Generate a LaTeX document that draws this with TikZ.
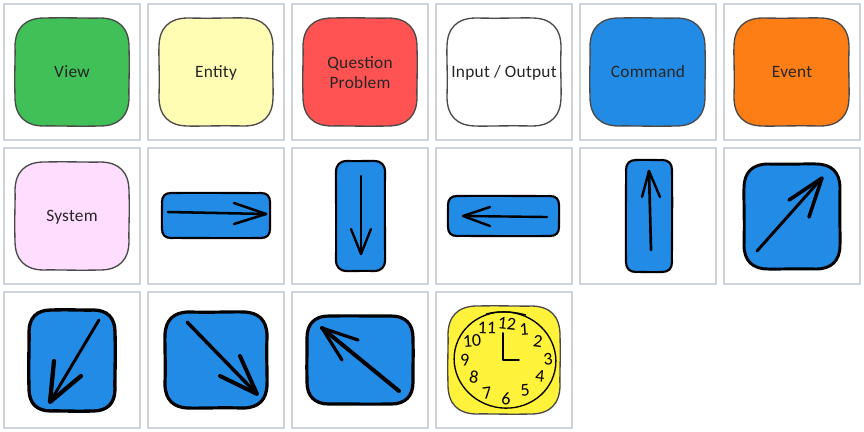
\documentclass[tikz,border=0pt]{standalone}
\usepackage{fontspec}
\setmainfont[LetterSpace=1.5]{Carlito}
\newfontfamily\digitfont{Carlito}
\definecolor{panelc}{HTML}{CED4DA}
\definecolor{viewc}{HTML}{40C057}
\definecolor{entityc}{HTML}{FFFDB3}
\definecolor{questc}{HTML}{FF5252}
\definecolor{blueC}{HTML}{228BE6}
\definecolor{orangeC}{HTML}{FD7E14}
\definecolor{pinkC}{HTML}{FFDDFF}
\definecolor{clockc}{HTML}{FFF23A}
\definecolor{softline}{HTML}{4A4A4A}
\tikzset{
  panel/.style={draw=panelc,line width=1.5pt,fill=white},
  softedge/.style={draw=softline,line width=1pt},
  hardedge/.style={draw=black,line width=1.6pt},
  label/.style={font=\fontsize{13}{13.5}\selectfont,align=center,text=black!85,inner sep=0pt,anchor=base},
  digit/.style={font=\digitfont\fontsize{13.5}{14}\selectfont,text=black,inner sep=0pt},
  stroke/.style={draw=black,line cap=round,line join=round},
}
% sketched rounded box: name, x1, y1, x2, y2, corner radius, fill, edge style, wobble sign
\newcommand{\skbox}[9]{%
  \path[fill=#7]
    ({#2+#6},#3) -- ({#4-#6},#3)
    .. controls ({#4-0.35*#6},#3) and (#4,{#3+0.35*#6}) .. (#4,{#3+#6})
    -- (#4,{#5-#6})
    .. controls (#4,{#5-0.35*#6}) and ({#4-0.35*#6},#5) .. ({#4-#6},#5)
    -- ({#2+#6},#5)
    .. controls ({#2+0.35*#6},#5) and (#2,{#5-0.35*#6}) .. (#2,{#5-#6})
    -- (#2,{#3+#6})
    .. controls (#2,{#3+0.35*#6}) and ({#2+0.35*#6},#3) .. ({#2+#6},#3) -- cycle;
  \draw[#8]
    ({#2+#6},#3)
    .. controls ({#2+0.5*(#4-#2)},{#3-0.6*#9}) and ({#4-1.2*#6},{#3+0.5*#9}) .. ({#4-#6},#3)
    .. controls ({#4-0.35*#6},#3) and (#4,{#3+0.35*#6}) .. (#4,{#3+#6})
    .. controls ({#4+0.7*#9},{#3+0.5*(#5-#3)}) and ({#4-0.5*#9},{#5-1.2*#6}) .. (#4,{#5-#6})
    .. controls (#4,{#5-0.35*#6}) and ({#4-0.35*#6},#5) .. ({#4-#6},#5)
    .. controls ({#2+0.5*(#4-#2)},{#5+0.6*#9}) and ({#2+1.2*#6},{#5-0.5*#9}) .. ({#2+#6},#5)
    .. controls ({#2+0.35*#6},#5) and (#2,{#5-0.35*#6}) .. (#2,{#5-#6})
    .. controls ({#2-0.7*#9},{#5-0.5*(#5-#3)}) and ({#2+0.5*#9},{#3+1.2*#6}) .. (#2,{#3+#6})
    .. controls (#2,{#3+0.35*#6}) and ({#2+0.35*#6},#3) .. ({#2+#6},#3) -- cycle;
  \coordinate (#1) at ({0.5*(#2+#4)},{0.5*(#3+#5)});
}
% sketched arrow: head width, shaft width, tail, head-side 1, tip, head-side 2, prefix
\newcommand{\skarrow}[7]{%
  \coordinate (#7t) at #3; \coordinate (#7a) at #4;
  \coordinate (#7p) at #5; \coordinate (#7b) at #6;
  \draw[stroke,line width=#2] (#7t) -- (#7p);
  \draw[stroke,line width=#1] (#7a) -- (#7p) -- (#7b);
}
\begin{document}
\begin{tikzpicture}[x=0.75pt,y=-0.75pt]
\useasboundingbox (0,0) rectangle (864,432);
\fill[white] (0,0) rectangle (864,432);
% panels
\foreach \n/\x/\y in {a/4/4,b/148/4,c/292/4,d/436/4,e/580/4,f/724/4,
                      g/4/148,h/148/148,i/292/148,j/436/148,k/580/148,l/724/148,
                      m/4/292,n/148/292,o/292/292,p/436/292}
  \draw[panel] (\x,\y) rectangle ({\x+136},{\y+135.5});
% labelled cards
\skbox{view}{15}{18}{129}{126}{29}{viewc}{softedge}{1}
\node[label] (viewT) at (72,77) {View};
\skbox{entity}{159}{18}{273}{126}{29}{entityc}{softedge}{-1}
\node[label] (entityT) at (216,77) {Entity};
\skbox{quest}{303}{18}{417}{126}{29}{questc}{softedge}{1}
\node[label,anchor=center] (questT) at (360,72.5) {Question\\[2pt]Problem};
\skbox{inout}{447}{18}{561}{126}{29}{white}{softedge}{-1}
\node[label] (inoutT) at (504,77) {Input / Output};
\skbox{command}{590}{18}{705}{126}{29}{blueC}{softedge}{1}
\node[label] (commandT) at (648,77) {Command};
\skbox{event}{734}{18}{849}{126}{29}{orangeC}{softedge}{-1}
\node[label] (eventT) at (792,77) {Event};
\skbox{system}{15}{162}{129}{270}{29}{pinkC}{softedge}{1}
\node[label] (systemT) at (72,221) {System};
% arrow cards
\skbox{right}{162}{193}{270}{238}{9}{blueC}{hardedge}{0.6}
\skarrow{1.9pt}{1.9pt}{(168,212)}{(234,203)}{(266,214)}{(234,224)}{ra}
\skbox{down}{336}{161}{385}{271}{11}{blueC}{hardedge}{-0.6}
\skarrow{1.8pt}{1.8pt}{(361,176)}{(351,229)}{(361,254)}{(371,229)}{da}
\skbox{left}{448}{196}{559}{236}{9}{blueC}{hardedge}{0.7}
\skarrow{1.8pt}{1.8pt}{(547,217)}{(490,207)}{(463,216)}{(490,226)}{la}
\skbox{up}{626}{160}{672}{272}{10}{blueC}{hardedge}{0.8}
\skarrow{1.8pt}{2pt}{(651,250)}{(642,197)}{(649,171)}{(660,197)}{ua}
\skbox{ne}{744}{164}{840}{269}{24}{blueC}{draw=black,line width=2.2pt}{-1}
\skarrow{2.7pt}{2.2pt}{(757,251)}{(789,200)}{(822,178)}{(809,217)}{nea}
\skbox{sw}{29}{310}{115}{411}{22}{blueC}{draw=black,line width=2.5pt}{1}
\skarrow{3.2pt}{2.2pt}{(99,320)}{(54,361)}{(50,402)}{(81,376)}{swa}
\skbox{se}{165}{312}{267}{408}{24}{blueC}{draw=black,line width=2.4pt}{-1}
\skarrow{3pt}{2.6pt}{(187,322)}{(240,356)}{(257,394)}{(220,376)}{sea}
\skbox{nw}{307}{316}{413}{404}{22}{blueC}{draw=black,line width=2.4pt}{0.7}
\skarrow{2.4pt}{3pt}{(399,391)}{(358,340)}{(322,328)}{(342,360)}{nwa}
% clock
\skbox{clockbox}{448}{306}{560}{414}{29}{clockc}{softedge}{1}
\coordinate (clockc) at (505,360);
\draw[black,line width=1pt,rotate around={-12:(clockc)}] (clockc) ellipse [x radius=51,y radius=48];
\draw[black,line width=1pt] (486,314) .. controls (497,311) and (512,311) .. (526,315);
\coordinate (hour) at (503,333);
\coordinate (minute) at (519,360);
\coordinate (hub) at (503,360);
\draw[stroke,line width=1.3pt] (hour) -- (hub) -- (minute);
\foreach \n/\t/\x/\y/\r in {d12/12/507/324/-6,d1/1/524/329/4,d2/2/538/341/-8,d3/3/548/359/6,
    d4/4/540/376/-6,d5/5/525/390/6,d6/6/506/399/-4,d7/7/487/393/8,d8/8/474/377/-8,
    d9/9/465/360/8,d10/10/472/341/4,d11/11/487/328/-2}
  \node[digit,rotate=\r] (\n) at (\x,\y) {\t};
\end{tikzpicture}
\end{document}
